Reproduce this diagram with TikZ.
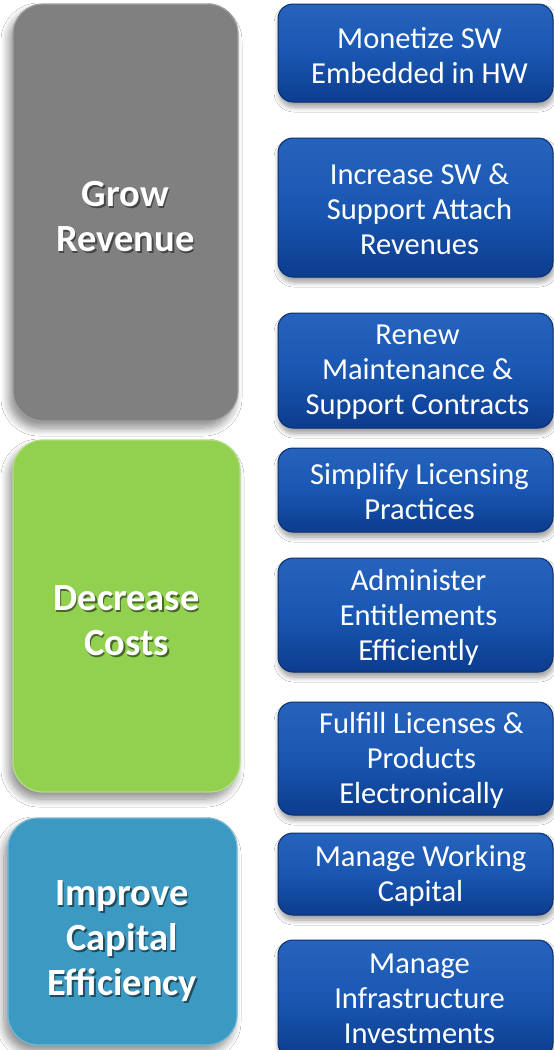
\documentclass[tikz,border=0pt]{standalone}
\usepackage{fontspec}
\setmainfont{Carlito}
\usetikzlibrary{shadows.blur}
\definecolor{greyfill}{HTML}{808080}
\definecolor{greenfill}{HTML}{92D050}
\definecolor{tealfill}{HTML}{3C9AC2}
\definecolor{navytop}{HTML}{2563BD}
\definecolor{navymid}{HTML}{1957B2}
\definecolor{navybot}{HTML}{0C3C8E}
\definecolor{navyedge}{HTML}{0A2F70}
\newcommand\shadowedlines[2]{\leavevmode\rlap{\hspace{1.5pt}\raisebox{-2pt}{\color{#1}\begin{tabular}{@{}c@{}}#2\end{tabular}}}\begin{tabular}{@{}c@{}}#2\end{tabular}}
\begin{document}
\begin{tikzpicture}[x=1pt,y=-1pt,
  goalbox/.style={rounded corners=30pt, inner sep=0pt, line width=1.2pt,
    blur shadow={shadow xshift=-4pt, shadow yshift=-7pt, shadow blur steps=10, shadow opacity=45, shadow blur radius=8pt}},
  goaltext/.style={text=white, font=\bfseries\fontsize{38.5}{45}\selectfont, inner sep=0pt},
  actbox/.style={rounded corners=15pt, minimum width=275pt, inner sep=0pt,
    top color=navytop, bottom color=navybot, middle color=navymid, draw=navyedge, line width=1pt,
    blur shadow={shadow xshift=1pt, shadow yshift=-5pt, shadow blur steps=8, shadow opacity=40, shadow blur radius=5pt}},
  acttext/.style={text=white, font=\fontsize{30.5}{35}\selectfont, align=center, inner sep=0pt}]
\useasboundingbox (0,0) rectangle (554,1050);
\fill[white] (0,0) rectangle (554,1050);

% left goal boxes
\node[goalbox, fill=greyfill, draw=greyfill!75!white, minimum width=225pt, minimum height=417pt] (grow) at (125.5,212.5) {};
\node[goalbox, fill=greenfill, draw=greenfill!70!white, minimum width=227pt, minimum height=352pt] (dec) at (126.5,616) {};
\node[goalbox, fill=tealfill, draw=tealfill!70!white, minimum width=229pt, minimum height=227pt] (imp) at (122.5,931.5) {};

\node[goaltext] (growT) at ([shift={(0,8.5)}]grow.center) {\shadowedlines{greyfill!55!black}{Grow\\Revenue}};
\node[goaltext] (decT) at ([shift={(0,8.5)}]dec.center) {\shadowedlines{greenfill!50!black}{Decrease\\Costs}};
\node[goaltext] (impT) at ([shift={(-0.5,10.5)}]imp.center) {\shadowedlines{tealfill!50!black}{Improve\\Capital\\Efficiency}};

% right action boxes
\node[actbox, minimum height=98pt] (a1) at (415.5,53) {};
\node[actbox, minimum height=139pt] (a2) at (415.5,207.5) {};
\node[actbox, minimum height=115pt] (a3) at (415.5,370.5) {};
\node[actbox, minimum height=84pt] (a4) at (415.5,490) {};
\node[actbox, minimum height=114pt] (a5) at (415.5,615) {};
\node[actbox, minimum height=113pt] (a6) at (415.5,758.5) {};
\node[actbox, minimum height=82pt] (a7) at (415.5,874) {};
\node[actbox, minimum height=118pt] (a8) at (415.5,999) {};

\node[acttext] (a1t) at ([shift={(4,2.5)}]a1.center) {Monetize SW\\Embedded in HW};
\node[acttext] (a2t) at ([shift={(4,2)}]a2.center) {Increase SW \&\\Support Attach\\Revenues};
\node[acttext] (a3t) at ([shift={(2,2)}]a3.center) {Renew\\Maintenance \&\\Support Contracts};
\node[acttext] (a4t) at ([shift={(4,2)}]a4.center) {Simplify Licensing\\Practices};
\node[acttext] (a5t) at ([shift={(3,2)}]a5.center) {Administer\\Entitlements\\Efficiently};
\node[acttext] (a6t) at ([shift={(6,2)}]a6.center) {Fulfill Licenses \&\\Products\\Electronically};
\node[acttext] (a7t) at ([shift={(5,2)}]a7.center) {Manage Working\\Capital};
\node[acttext] (a8t) at ([shift={(4,0)}]a8.center) {Manage\\Infrastructure\\Investments};
\end{tikzpicture}
\end{document}
